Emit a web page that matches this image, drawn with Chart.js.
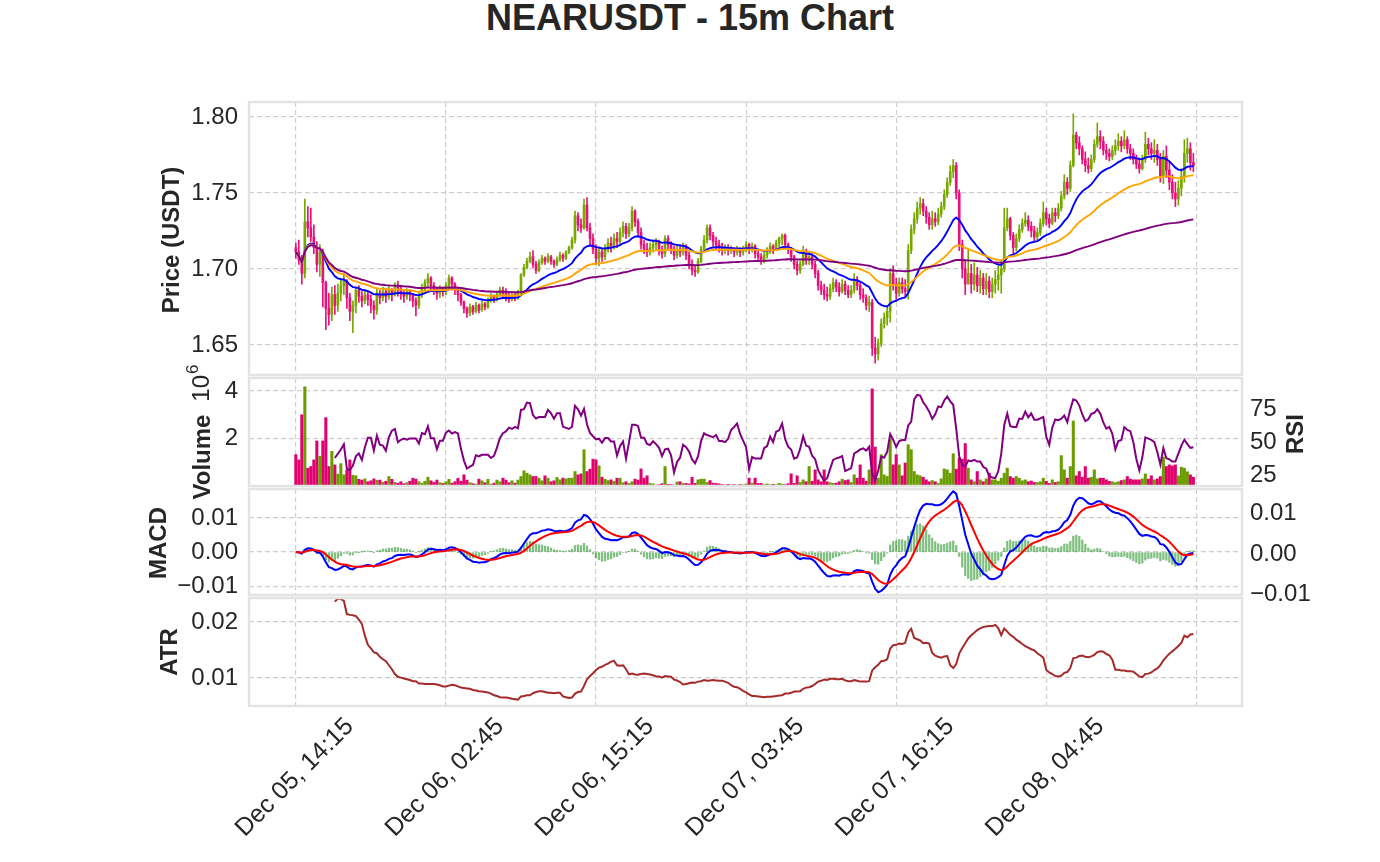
<!DOCTYPE html>
<html>
<head>
<meta charset="utf-8">
<title>NEARUSDT - 15m Chart</title>
<script src="https://cdn.jsdelivr.net/npm/chart.js@4.4.1/dist/chart.umd.min.js"></script>
<style>
	html, body { margin: 0; padding: 0; background: #fff; }
	#figure { position: relative; width: 1380px; height: 862px; overflow: hidden; }
	#figure canvas { position: absolute; left: 0; top: 0; }
	#title {
		position: absolute; left: 0; top: 0; width: 1380px;
		text-align: center; color: #262626;
		font: bold 36px 'Liberation Sans', Arial, sans-serif; line-height: 36px;
	}
</style>
</head>
<body>
<div id="figure">
	<div id="title">NEARUSDT - 15m Chart</div>
	<canvas id="priceChart" width="1380" height="862"></canvas>
	<canvas id="volumeChart" width="1380" height="862"></canvas>
	<canvas id="macdChart" width="1380" height="862"></canvas>
	<canvas id="atrChart" width="1380" height="862"></canvas>
</div>
<script>
// 15m candles, index 0 = Dec 05, 14:15 (open of a candle = previous close)
const firstOpen = 1.714;

const closes = [
	1.711, 1.706, 1.697, 1.731, 1.727, 1.721, 1.714, 1.703, 1.711, 1.691,
	1.674, 1.670, 1.683, 1.676, 1.684, 1.689, 1.692, 1.681, 1.672, 1.676,
	1.686, 1.682, 1.679, 1.683, 1.680, 1.676, 1.673, 1.684, 1.681, 1.685,
	1.682, 1.686, 1.683, 1.689, 1.686, 1.684, 1.682, 1.685, 1.683, 1.679,
	1.676, 1.683, 1.688, 1.691, 1.694, 1.689, 1.686, 1.684, 1.687, 1.685,
	1.689, 1.694, 1.690, 1.687, 1.683, 1.678, 1.674, 1.671, 1.675, 1.672,
	1.676, 1.673, 1.677, 1.675, 1.679, 1.682, 1.680, 1.683, 1.686, 1.684,
	1.681, 1.680, 1.683, 1.681, 1.684, 1.696, 1.701, 1.705, 1.708, 1.703,
	1.699, 1.704, 1.707, 1.705, 1.708, 1.705, 1.703, 1.706, 1.709, 1.707,
	1.711, 1.714, 1.719, 1.735, 1.729, 1.727, 1.742, 1.727, 1.720, 1.713,
	1.707, 1.711, 1.708, 1.713, 1.717, 1.715, 1.720, 1.718, 1.724, 1.728,
	1.723, 1.727, 1.738, 1.731, 1.724, 1.716, 1.713, 1.711, 1.714, 1.716,
	1.718, 1.712, 1.710, 1.720, 1.716, 1.713, 1.709, 1.713, 1.711, 1.714,
	1.709, 1.703, 1.699, 1.698, 1.705, 1.713, 1.719, 1.727, 1.722, 1.718,
	1.716, 1.714, 1.712, 1.714, 1.712, 1.713, 1.711, 1.713, 1.711, 1.714,
	1.716, 1.713, 1.715, 1.710, 1.708, 1.706, 1.709, 1.712, 1.715, 1.713,
	1.717, 1.720, 1.722, 1.716, 1.713, 1.708, 1.703, 1.699, 1.703, 1.711,
	1.706, 1.708, 1.703, 1.697, 1.689, 1.686, 1.683, 1.682, 1.687, 1.691,
	1.688, 1.685, 1.690, 1.686, 1.683, 1.686, 1.693, 1.689, 1.683, 1.681,
	1.676, 1.678, 1.648, 1.644, 1.651, 1.664, 1.668, 1.672, 1.697, 1.690,
	1.684, 1.691, 1.687, 1.685, 1.712, 1.726, 1.733, 1.740, 1.743, 1.738,
	1.734, 1.729, 1.733, 1.731, 1.736, 1.741, 1.749, 1.757, 1.764, 1.768,
	1.750, 1.716, 1.700, 1.690, 1.697, 1.690, 1.696, 1.689, 1.694, 1.687,
	1.692, 1.685, 1.690, 1.693, 1.696, 1.700, 1.727, 1.733, 1.722, 1.714,
	1.720, 1.726, 1.730, 1.732, 1.728, 1.725, 1.721, 1.724, 1.730, 1.737,
	1.733, 1.730, 1.737, 1.735, 1.740, 1.748, 1.757, 1.753, 1.768, 1.788,
	1.783, 1.779, 1.772, 1.768, 1.766, 1.772, 1.782, 1.787, 1.784, 1.778,
	1.776, 1.774, 1.778, 1.781, 1.784, 1.781, 1.785, 1.779, 1.776, 1.772,
	1.769, 1.766, 1.772, 1.782, 1.779, 1.776, 1.778, 1.772, 1.761, 1.774,
	1.765, 1.757, 1.750, 1.746, 1.753, 1.761, 1.776, 1.779, 1.770, 1.768,
];

const highs = [
	1.717, 1.719, 1.709, 1.746, 1.741, 1.740, 1.729, 1.718, 1.716, 1.713,
	1.692, 1.684, 1.688, 1.689, 1.690, 1.694, 1.697, 1.693, 1.684, 1.679,
	1.688, 1.689, 1.685, 1.686, 1.685, 1.683, 1.679, 1.687, 1.686, 1.688,
	1.687, 1.689, 1.687, 1.691, 1.692, 1.689, 1.686, 1.687, 1.686, 1.684,
	1.681, 1.685, 1.690, 1.693, 1.697, 1.695, 1.691, 1.688, 1.689, 1.688,
	1.691, 1.696, 1.695, 1.691, 1.688, 1.684, 1.679, 1.675, 1.677, 1.676,
	1.678, 1.677, 1.679, 1.678, 1.681, 1.684, 1.683, 1.685, 1.688, 1.688,
	1.687, 1.684, 1.685, 1.684, 1.686, 1.697, 1.703, 1.707, 1.711, 1.712,
	1.705, 1.706, 1.709, 1.708, 1.710, 1.709, 1.706, 1.708, 1.711, 1.710,
	1.712, 1.715, 1.721, 1.738, 1.737, 1.733, 1.746, 1.747, 1.730, 1.723,
	1.716, 1.714, 1.713, 1.716, 1.720, 1.721, 1.723, 1.724, 1.727, 1.731,
	1.730, 1.730, 1.741, 1.739, 1.733, 1.727, 1.719, 1.717, 1.717, 1.719,
	1.720, 1.719, 1.715, 1.722, 1.722, 1.718, 1.715, 1.716, 1.716, 1.717,
	1.716, 1.711, 1.706, 1.702, 1.707, 1.715, 1.722, 1.729, 1.729, 1.724,
	1.721, 1.719, 1.717, 1.716, 1.716, 1.715, 1.714, 1.715, 1.714, 1.715,
	1.718, 1.717, 1.717, 1.716, 1.712, 1.710, 1.711, 1.714, 1.717, 1.716,
	1.719, 1.721, 1.723, 1.723, 1.717, 1.714, 1.709, 1.705, 1.705, 1.715,
	1.713, 1.711, 1.710, 1.705, 1.699, 1.692, 1.690, 1.688, 1.690, 1.694,
	1.693, 1.691, 1.693, 1.692, 1.689, 1.689, 1.697, 1.695, 1.691, 1.687,
	1.683, 1.682, 1.680, 1.655, 1.654, 1.667, 1.671, 1.676, 1.700, 1.702,
	1.694, 1.694, 1.694, 1.693, 1.716, 1.729, 1.737, 1.744, 1.747, 1.746,
	1.741, 1.737, 1.738, 1.737, 1.740, 1.744, 1.752, 1.760, 1.768, 1.772,
	1.770, 1.752, 1.719, 1.706, 1.713, 1.703, 1.704, 1.701, 1.699, 1.697,
	1.697, 1.695, 1.694, 1.699, 1.702, 1.706, 1.740, 1.740, 1.734, 1.724,
	1.723, 1.729, 1.733, 1.737, 1.735, 1.731, 1.728, 1.727, 1.733, 1.744,
	1.740, 1.736, 1.740, 1.740, 1.743, 1.751, 1.762, 1.760, 1.771, 1.802,
	1.790, 1.787, 1.781, 1.777, 1.773, 1.775, 1.785, 1.796, 1.791, 1.787,
	1.782, 1.779, 1.781, 1.785, 1.789, 1.787, 1.791, 1.787, 1.782, 1.779,
	1.775, 1.773, 1.775, 1.790, 1.786, 1.783, 1.785, 1.782, 1.776, 1.778,
	1.781, 1.771, 1.762, 1.757, 1.758, 1.766, 1.785, 1.786, 1.783, 1.776,
];

const lows = [
	1.707, 1.703, 1.690, 1.694, 1.721, 1.718, 1.710, 1.698, 1.695, 1.675,
	1.660, 1.663, 1.666, 1.670, 1.672, 1.679, 1.683, 1.674, 1.666, 1.658,
	1.671, 1.678, 1.675, 1.677, 1.676, 1.671, 1.667, 1.670, 1.677, 1.679,
	1.678, 1.680, 1.679, 1.682, 1.682, 1.680, 1.678, 1.680, 1.679, 1.675,
	1.669, 1.674, 1.681, 1.685, 1.688, 1.686, 1.683, 1.680, 1.681, 1.682,
	1.683, 1.687, 1.686, 1.683, 1.679, 1.676, 1.671, 1.668, 1.669, 1.670,
	1.671, 1.671, 1.672, 1.673, 1.674, 1.678, 1.678, 1.679, 1.682, 1.681,
	1.679, 1.678, 1.679, 1.679, 1.680, 1.683, 1.695, 1.700, 1.704, 1.701,
	1.697, 1.698, 1.703, 1.703, 1.704, 1.703, 1.701, 1.702, 1.705, 1.705,
	1.706, 1.710, 1.713, 1.717, 1.725, 1.724, 1.726, 1.725, 1.716, 1.710,
	1.703, 1.702, 1.705, 1.706, 1.711, 1.711, 1.713, 1.714, 1.716, 1.721,
	1.720, 1.721, 1.725, 1.728, 1.721, 1.713, 1.710, 1.708, 1.709, 1.711,
	1.713, 1.709, 1.707, 1.708, 1.713, 1.710, 1.706, 1.707, 1.708, 1.709,
	1.706, 1.700, 1.696, 1.695, 1.697, 1.704, 1.711, 1.717, 1.719, 1.715,
	1.713, 1.711, 1.709, 1.710, 1.709, 1.710, 1.708, 1.709, 1.708, 1.709,
	1.711, 1.710, 1.711, 1.707, 1.705, 1.703, 1.704, 1.707, 1.710, 1.710,
	1.712, 1.714, 1.716, 1.713, 1.710, 1.705, 1.700, 1.696, 1.697, 1.702,
	1.703, 1.703, 1.700, 1.694, 1.686, 1.683, 1.680, 1.679, 1.680, 1.685,
	1.685, 1.682, 1.684, 1.683, 1.681, 1.681, 1.684, 1.686, 1.680, 1.678,
	1.673, 1.672, 1.643, 1.638, 1.640, 1.649, 1.661, 1.663, 1.665, 1.686,
	1.680, 1.682, 1.684, 1.681, 1.680, 1.710, 1.723, 1.730, 1.736, 1.735,
	1.730, 1.726, 1.726, 1.728, 1.729, 1.734, 1.739, 1.747, 1.755, 1.760,
	1.746, 1.712, 1.694, 1.683, 1.690, 1.684, 1.686, 1.685, 1.684, 1.683,
	1.683, 1.681, 1.681, 1.684, 1.686, 1.684, 1.698, 1.725, 1.719, 1.710,
	1.712, 1.718, 1.724, 1.728, 1.725, 1.721, 1.718, 1.719, 1.722, 1.728,
	1.729, 1.727, 1.729, 1.731, 1.733, 1.738, 1.746, 1.749, 1.751, 1.767,
	1.779, 1.775, 1.769, 1.764, 1.763, 1.764, 1.770, 1.780, 1.779, 1.775,
	1.772, 1.771, 1.772, 1.775, 1.778, 1.777, 1.779, 1.776, 1.772, 1.769,
	1.766, 1.763, 1.765, 1.770, 1.775, 1.772, 1.770, 1.768, 1.757, 1.756,
	1.760, 1.752, 1.746, 1.741, 1.742, 1.748, 1.757, 1.770, 1.765, 1.764,
];

// traded volume per candle, millions of NEAR
const volumes = [
	1.32, 1.10, 3.00, 4.18, 0.75, 0.82, 1.10, 1.90, 1.25, 1.90,
	2.88, 0.82, 1.46, 0.89, 0.50, 0.94, 0.47, 0.68, 1.10, 0.45,
	0.43, 0.28, 0.25, 0.30, 0.18, 0.22, 0.30, 0.24, 0.25, 0.16,
	0.20, 0.40, 0.28, 0.15, 0.12, 0.18, 0.10, 0.14, 0.20, 0.33,
	0.29, 0.18, 0.12, 0.20, 0.37, 0.22, 0.16, 0.25, 0.14, 0.11,
	0.18, 0.28, 0.12, 0.18, 0.32, 0.20, 0.47, 0.25, 0.14, 0.10,
	0.08, 0.29, 0.22, 0.14, 0.28, 0.08, 0.12, 0.25, 0.18, 0.33,
	0.25, 0.14, 0.22, 0.12, 0.25, 0.40, 0.64, 0.54, 0.47, 0.40,
	0.40, 0.33, 0.22, 0.43, 0.33, 0.18, 0.22, 0.36, 0.26, 0.33,
	0.30, 0.33, 0.33, 0.61, 0.47, 0.51, 1.53, 0.61, 0.71, 1.13,
	1.10, 0.85, 0.37, 0.29, 0.23, 0.26, 0.20, 0.33, 0.33, 0.14,
	0.18, 0.11, 0.18, 0.29, 0.25, 0.72, 0.33, 0.43, 0.11, 0.09,
	0.04, 0.06, 0.10, 0.82, 0.07, 0.06, 0.04, 0.17, 0.18, 0.11,
	0.11, 0.09, 0.37, 0.11, 0.26, 0.29, 0.29, 0.15, 0.23, 0.12,
	0.11, 0.09, 0.06, 0.05, 0.07, 0.05, 0.06, 0.04, 0.06, 0.05,
	0.08, 0.33, 0.12, 0.33, 0.11, 0.11, 0.06, 0.09, 0.05, 0.07,
	0.05, 0.11, 0.08, 0.06, 0.10, 0.51, 0.11, 0.43, 0.15, 0.26,
	0.18, 0.82, 0.20, 0.68, 0.26, 0.18, 0.68, 0.18, 0.14, 0.11,
	0.12, 0.18, 0.29, 0.23, 0.26, 0.15, 0.47, 0.33, 0.89, 0.33,
	0.20, 0.68, 4.09, 1.64, 0.33, 1.32, 0.47, 0.40, 1.96, 0.89,
	1.32, 0.89, 0.43, 0.97, 1.74, 1.53, 0.61, 0.47, 0.43, 0.37,
	0.26, 0.18, 0.23, 0.18, 0.11, 0.30, 0.72, 0.68, 0.54, 1.36,
	0.71, 1.18, 1.13, 1.79, 0.75, 0.26, 0.18, 0.61, 0.26, 0.18,
	0.30, 0.54, 0.26, 0.26, 0.20, 0.33, 0.54, 0.75, 0.40, 0.33,
	0.40, 0.33, 0.22, 0.26, 0.18, 0.21, 0.15, 0.14, 0.18, 0.33,
	0.20, 0.11, 0.26, 0.15, 0.18, 1.28, 0.68, 0.33, 0.82, 2.74,
	0.43, 0.61, 0.37, 0.82, 0.33, 0.37, 0.68, 0.30, 0.33, 0.33,
	0.26, 0.20, 0.18, 0.14, 0.18, 0.23, 0.26, 0.40, 0.29, 0.26,
	0.26, 0.26, 0.30, 0.51, 0.29, 0.43, 0.26, 0.30, 0.40, 1.22,
	0.82, 0.89, 0.85, 0.89, 0.43, 0.79, 0.75, 0.60, 0.47, 0.37,
];

// x ticks every 50 candles (12.5 hours); the last grid line has no date
const tickIndex = [0, 50, 100, 150, 200, 250, 300];
const tickLabels = ['Dec 05, 14:15', 'Dec 06, 02:45', 'Dec 06, 15:15', 'Dec 07, 03:45', 'Dec 07, 16:15', 'Dec 08, 04:45', ''];

// indicator periods
const emaSpans = [20, 50, 200];
const macdSpans = [12, 26, 9];
const rsiPeriod = 14;
const atrPeriod = 14;

// ---------- styles ----------
const FONT = "'Liberation Sans', Arial, Helvetica, sans-serif";
const TEXT = '#262626';
const GRID = '#cfcfcf';
const FRAME = '#e3e3e3';
const UP = '#78a800';
const DOWN = '#e6127a';
const VOL_UP = '#6a9c00';
const VOL_DOWN = '#e0006e';
const EMA_COLORS = ['#0000ff', '#ffa500', '#800080'];
const X_MIN = -15.6;
const X_MAX = 315.2;

Chart.defaults.font.family = FONT;
Chart.defaults.font.size = 24;
Chart.defaults.color = TEXT;

// ---------- indicators ----------
let opens = closes.map((c, i) => (i === 0 ? firstOpen : closes[i - 1]));

// pandas style ewm(span).mean() (adjust=True)
let ema = (values, span) => {
	let alpha = 2 / (span + 1);
	let num = 0;
	let den = 0;
	return values.map((v) => {
		num = v + (1 - alpha) * num;
		den = 1 + (1 - alpha) * den;
		return num / den;
	});
};

let rollingMean = (values, n) => values.map((v, i) => {
	if (i < n - 1) { return null; }
	let sum = 0;
	for (let k = i - n + 1; k <= i; k++) { sum += values[k]; }
	return sum / n;
});

let rsi = (values, n) => {
	let gains = values.map((v, i) => (i ? Math.max(v - values[i - 1], 0) : 0));
	let losses = values.map((v, i) => (i ? Math.max(values[i - 1] - v, 0) : 0));
	let g = rollingMean(gains, n);
	let l = rollingMean(losses, n);
	return g.map((gv, i) => (gv === null ? null : (l[i] === 0 ? 100 : 100 - 100 / (1 + gv / l[i]))));
};

let trueRange = highs.map((h, i) => {
	if (i === 0) { return h - lows[i]; }
	let pc = closes[i - 1];
	return Math.max(h - lows[i], Math.abs(h - pc), Math.abs(lows[i] - pc));
});

let emaLines = emaSpans.map((span) => ema(closes, span));
let emaFast = ema(closes, macdSpans[0]);
let emaSlow = ema(closes, macdSpans[1]);
let macd = emaFast.map((v, i) => v - emaSlow[i]);
let signal = ema(macd, macdSpans[2]);
let hist = macd.map((v, i) => v - signal[i]);
let rsiLine = rsi(closes, rsiPeriod);
let atrLine = rollingMean(trueRange, atrPeriod);

let isUp = closes.map((c, i) => c >= opens[i]);
let points = (values) => values.map((v, i) => ({ x: i, y: v }));

// ---------- plugins ----------
// light frame round every panel
let panelFrame = {
	id: 'panelFrame',
	afterDraw (chart) {
		let { ctx, chartArea: a } = chart;
		ctx.save();
		ctx.strokeStyle = FRAME;
		ctx.lineWidth = 2.5;
		ctx.strokeRect(a.left, a.top, a.right - a.left, a.bottom - a.top);
		ctx.restore();
	},
};

// vertical axis labels, reading bottom to top
let axisLabels = {
	id: 'axisLabels',
	afterDraw (chart, args, opts) {
		let { ctx } = chart;
		(opts.items || []).forEach((item) => {
			ctx.save();
			ctx.translate(item.x, item.y);
			ctx.rotate(-Math.PI / 2);
			ctx.fillStyle = TEXT;
			ctx.font = item.font;
			ctx.textAlign = item.align || 'center';
			ctx.textBaseline = 'middle';
			ctx.fillText(item.text, item.dx || 0, item.dy || 0);
			ctx.restore();
		});
	},
};

// ---------- axes ----------
let fmt = (digits) => (v) => (Math.abs(v) < 1e-9 ? 0 : v).toFixed(digits).replace('-', '\u2212');

let xAxis = (withLabels) => ({
	type: 'linear',
	min: X_MIN,
	max: X_MAX,
	offset: false,
	grid: { color: GRID, lineWidth: 1.2, drawTicks: false, offset: false },
	border: { display: false, dash: [5, 3] },
	ticks: {
		display: withLabels,
		font: { size: 25 },
		stepSize: 50,
		includeBounds: false,
		autoSkip: false,
		minRotation: 45,
		maxRotation: 45,
		labelOffset: 54,
		padding: 6,
		callback: (value) => {
			let k = tickIndex.indexOf(value);
			return k >= 0 ? tickLabels[k] : '';
		},
	},
	afterFit: (scale) => { scale.height = withLabels ? 156 : 0; },
});

let leftAxis = (min, max, stepSize, callback) => ({
	type: 'linear',
	position: 'left',
	min,
	max,
	grid: { color: GRID, lineWidth: 1.2, drawTicks: false },
	border: { display: false, dash: [5, 3] },
	ticks: { stepSize, includeBounds: false, padding: 11, callback },
	afterFit: (scale) => { scale.width = 249; },
});

let rightAxis = (min, max, stepSize, callback) => ({
	type: 'linear',
	position: 'right',
	min,
	max,
	grid: { drawOnChartArea: false, drawTicks: false },
	border: { display: false },
	ticks: { stepSize, includeBounds: false, padding: 8, callback },
	afterFit: (scale) => { scale.width = 138; },
});

let boldLabel = (text, x, y) => ({ text, x, y, font: 'bold 24px ' + FONT });

// one chart per panel, all on the same x range
let createPanel = (canvasId, box, datasets, scales, labels) => new Chart(document.getElementById(canvasId), {
	type: 'bar',
	data: { datasets },
	options: {
		responsive: false,
		animation: false,
		events: [],
		layout: {
			padding: {
				top: box.top,
				bottom: 862 - box.bottom - (box.xAxisHeight || 0),
				left: 0,
				right: box.hasRight ? 0 : 138,
			},
		},
		scales,
		plugins: {
			legend: { display: false },
			tooltip: { enabled: false },
			axisLabels: { items: labels },
		},
	},
	plugins: [panelFrame, axisLabels],
});

let lineSet = (values, color, width, order, yAxisID = 'y') => ({
	type: 'line',
	data: points(values),
	borderColor: color,
	borderWidth: width,
	pointRadius: 0,
	tension: 0,
	fill: false,
	order,
	yAxisID,
});

// ---------- price ----------
createPanel('priceChart', { top: 102, bottom: 375 }, [
	lineSet(emaLines[0], EMA_COLORS[0], 1.9, 2),
	lineSet(emaLines[1], EMA_COLORS[1], 1.9, 1),
	lineSet(emaLines[2], EMA_COLORS[2], 1.9, 0),
	{
		type: 'bar',
		data: closes.map((c, i) => ({ x: i, y: [Math.min(lows[i], opens[i], c), Math.max(highs[i], opens[i], c)] })),
		backgroundColor: isUp.map((u) => (u ? UP : DOWN)),
		barThickness: 1,
		grouped: false,
		order: 4,
	},
	{
		type: 'bar',
		data: closes.map((c, i) => ({ x: i, y: [opens[i], c] })),
		backgroundColor: isUp.map((u) => (u ? UP : DOWN)),
		barThickness: 2,
		minBarLength: 1,
		grouped: false,
		order: 3,
	},
], {
	x: xAxis(false),
	y: leftAxis(1.6302, 1.8098, 0.05, fmt(2)),
}, [boldLabel('Price (USDT)', 172, 240)]);

// ---------- volume + RSI ----------
createPanel('volumeChart', { top: 378, bottom: 486, hasRight: true }, [
	lineSet(rsiLine, '#800080', 2, 0, 'yr'),
	{
		type: 'bar',
		data: points(volumes),
		backgroundColor: isUp.map((u) => (u ? VOL_UP : VOL_DOWN)),
		barThickness: 2.4,
		grouped: false,
		order: 1,
	},
], {
	x: xAxis(false),
	y: leftAxis(0, 4.55, 2, (v) => (v === 0 ? '' : String(v))),
	yr: rightAxis(16.7, 98.7, 25, (v) => String(v)),
}, [
	boldLabel('Volume', 203, 457),
	{ text: '10', x: 202, y: 379, dx: 4, align: 'right', font: '24px ' + FONT },
	{ text: '6', x: 202, y: 379, dx: 5, dy: -9, align: 'left', font: '17px ' + FONT },
	boldLabel('RSI', 1296, 434),
]);

// ---------- MACD ----------
createPanel('macdChart', { top: 489, bottom: 595, hasRight: true }, [
	lineSet(signal, '#ff0000', 2, 0),
	lineSet(macd, '#0000ff', 2, 1),
	{
		type: 'bar',
		data: points(hist),
		backgroundColor: 'rgba(0, 128, 0, 0.5)',
		barThickness: 1.6,
		grouped: false,
		order: 2,
	},
], {
	x: xAxis(false),
	y: leftAxis(-0.0126, 0.0185, 0.01, fmt(2)),
	yr: rightAxis(-0.0101, 0.0161, 0.01, fmt(2)),
}, [boldLabel('MACD', 159, 543)]);

// ---------- ATR ----------
createPanel('atrChart', { top: 598, bottom: 706, xAxisHeight: 156 }, [
	lineSet(atrLine, '#a52a2a', 2, 0),
], {
	x: xAxis(true),
	y: leftAxis(0.005, 0.0243, 0.01, fmt(2)),
}, [boldLabel('ATR', 170, 652)]);
</script>
</body>
</html>
